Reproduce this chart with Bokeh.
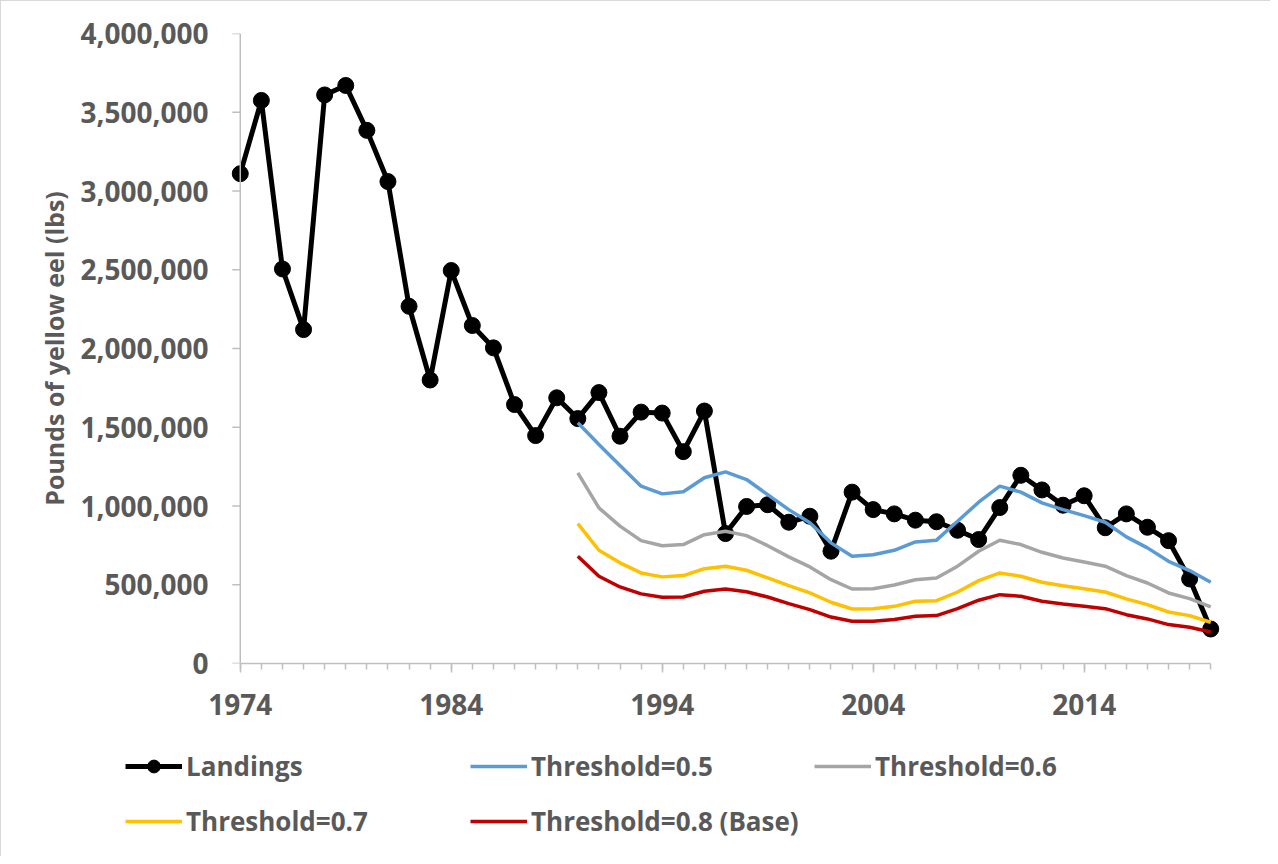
from bokeh.plotting import figure
from bokeh.layouts import column
from bokeh.models import (Range1d, FixedTicker, NumeralTickFormatter, Legend, LegendItem, Span)
from bokeh.embed import file_html
from bokeh.resources import INLINE

years = list(range(1974, 2021))
landings = [3110000, 3575000, 2505000, 2120000, 3610000, 3670000, 3385000, 3060000,
            2268000, 1800000, 2495000, 2146000, 2004000, 1644000, 1447000, 1687000,
            1555000, 1720000, 1443000, 1596000, 1590000, 1345000, 1603000, 825000,
            997000, 1008000, 897000, 935000, 713000, 1088000, 977000, 950000,
            910000, 900000, 846000, 787000, 990000, 1195000, 1102000, 1005000,
            1065000, 862000, 950000, 865000, 780000, 537000, 219000]

t_years = list(range(1990, 2021))
thr_05 = [1528000, 1390000, 1257000, 1126000, 1077000, 1090000, 1179000, 1217000,
          1168000, 1072000, 977000, 893000, 766000, 681000, 691000, 719000,
          772000, 783000, 903000, 1024000, 1126000, 1088000, 1020000, 977000,
          939000, 897000, 804000, 734000, 649000, 590000, 516000]
thr_06 = [1210000, 988000, 872000, 780000, 748000, 755000, 818000, 840000,
          812000, 748000, 677000, 613000, 532000, 473000, 475000, 498000,
          532000, 543000, 618000, 713000, 783000, 755000, 706000, 670000,
          645000, 618000, 558000, 511000, 448000, 412000, 359000]
thr_07 = [888000, 719000, 639000, 575000, 550000, 558000, 602000, 618000,
          592000, 543000, 494000, 448000, 389000, 346000, 348000, 363000,
          395000, 399000, 454000, 526000, 575000, 554000, 516000, 494000,
          475000, 454000, 410000, 374000, 327000, 304000, 262000]
thr_08 = [681000, 554000, 486000, 442000, 421000, 422000, 459000, 473000,
          456000, 422000, 380000, 342000, 295000, 268000, 268000, 280000,
          300000, 304000, 348000, 402000, 437000, 427000, 395000, 378000,
          363000, 348000, 310000, 283000, 247000, 230000, 200000]

x_ticks = [1974, 1984, 1994, 2004, 2014]
y_ticks = [0, 500000, 1000000, 1500000, 2000000, 2500000, 3000000, 3500000, 4000000]

series_names = ["Landings", "Threshold=0.5", "Threshold=0.6", "Threshold=0.7", "Threshold=0.8 (Base)"]
series_colors = ["black", "#5B9BD5", "#A5A5A5", "#FFC000", "#C00000"]

FONT = "Open Sans"
TXT = "#595959"
AX = "#BFBFBF"
BORDER = "1px solid #D9D9D9"

X0, X1 = 1973.3, 2020.7
FRAME_W = 1000
px_per_year = FRAME_W / (X1 - X0)

p = figure(width=1270, height=735, output_backend="svg", toolbar_location=None,
           x_range=Range1d(X0, X1), y_range=Range1d(0, 4000000),
           min_border_left=224, min_border_right=46, min_border_top=32, min_border_bottom=73)
p.frame_align = False
p.styles = {"border-top": BORDER, "border-left": BORDER}
p.outline_line_color = None
p.xgrid.visible = False
p.ygrid.visible = False
p.background_fill_color = "white"
p.border_fill_color = "white"

# vertical axis line sits at the first year, ticks pointing left
p.add_layout(Span(location=years[0], dimension="height", line_color=AX, line_width=1.5))
tick_len = 8 / px_per_year
p.segment(x0=[years[0] - tick_len] * len(y_ticks), x1=[years[0]] * len(y_ticks),
          y0=y_ticks, y1=y_ticks, line_color=AX, line_width=1.5)

# series
all_x = [years, t_years, t_years, t_years, t_years]
all_y = [landings, thr_05, thr_06, thr_07, thr_08]
p.line(years, landings, line_color=series_colors[0], line_width=5)
p.scatter(years, landings, size=16, fill_color=series_colors[0], line_color=series_colors[0])
for xs, ys, c in zip(all_x[1:], all_y[1:], series_colors[1:]):
    p.line(xs, ys, line_color=c, line_width=3.5)

# X axis
xa = p.xaxis[0]
xa.ticker = FixedTicker(ticks=x_ticks, minor_ticks=years)
xa.bounds = (years[0], years[-1])
xa.axis_line_color = AX
xa.axis_line_width = 1.5
xa.major_tick_line_color = AX
xa.minor_tick_line_color = AX
xa.major_tick_line_width = 1.5
xa.minor_tick_line_width = 1.5
xa.major_tick_in = 0
xa.major_tick_out = 9
xa.minor_tick_in = 0
xa.minor_tick_out = 6
xa.major_label_text_font = FONT
xa.major_label_text_font_style = "bold"
xa.major_label_text_font_size = "28px"
xa.major_label_text_color = TXT
xa.major_label_standoff = 21

# Y axis (labels and title; line and ticks drawn at the first year)
ya = p.yaxis[0]
ya.ticker = FixedTicker(ticks=y_ticks)
ya.formatter = NumeralTickFormatter(format="0,0")
ya.axis_line_color = None
ya.major_tick_line_color = None
ya.minor_tick_line_color = None
ya.major_tick_in = 0
ya.major_tick_out = 0
ya.major_label_text_font = FONT
ya.major_label_text_font_style = "bold"
ya.major_label_text_font_size = "28px"
ya.major_label_text_color = TXT
ya.major_label_standoff = 17
ya.axis_label = "Pounds of yellow eel (lbs)"
ya.axis_label_text_font = FONT
ya.axis_label_text_font_style = "bold"
ya.axis_label_text_font_size = "25px"
ya.axis_label_text_color = TXT
ya.axis_label_standoff = 6

# legend panel underneath (series drawn off-range so only their legend glyphs show)
lf = figure(width=1270, height=121, output_backend="svg", toolbar_location=None,
            x_axis_type=None, y_axis_type=None, x_range=Range1d(0, 1), y_range=Range1d(0, 1),
            min_border_left=0, min_border_right=0, min_border_top=0, min_border_bottom=0)
lf.frame_align = False
lf.styles = {"border-left": BORDER}
lf.outline_line_color = None
lf.xgrid.visible = False
lf.ygrid.visible = False

leg_rends = []
for i, (xs, ys, c) in enumerate(zip(all_x, all_y, series_colors)):
    rs = [lf.line(xs, ys, line_color=c, line_width=5 if i == 0 else 3.5)]
    if i == 0:
        rs.append(lf.scatter(xs, ys, size=14, fill_color=c, line_color=c))
    leg_rends.append(rs)

leg_pos = [(124, 72), (469, 72), (813, 72), (124, 17), (469, 17)]
for name, rs, loc in zip(series_names, leg_rends, leg_pos):
    lg = Legend(items=[LegendItem(label=name, renderers=rs)], location=loc,
                padding=0, margin=0, spacing=0, border_line_color=None,
                background_fill_alpha=0, glyph_width=57, glyph_height=32,
                label_height=36, label_standoff=4, label_text_font=FONT,
                label_text_font_style="bold", label_text_font_size="26px",
                label_text_color=TXT)
    lf.add_layout(lg, "center")

open("out.html", "w").write(file_html(column(p, lf, spacing=0), INLINE))
